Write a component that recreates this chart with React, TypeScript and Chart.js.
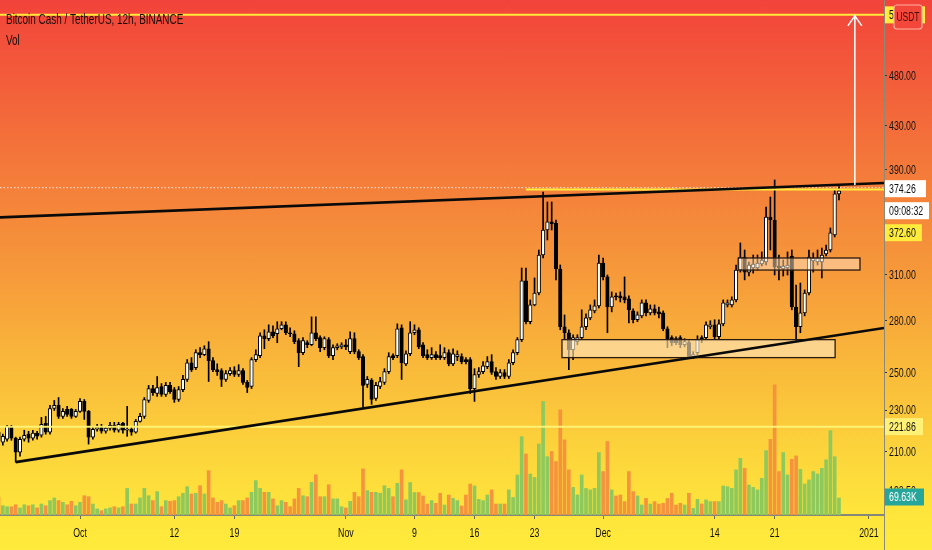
import React, { useEffect, useRef } from 'react';
import { Chart, registerables } from 'chart.js';

Chart.register(...registerables);

// ---- data: BCH/USDT 12h candles, index = half-days since Oct 1 00:00 ----
const FIRST_INDEX = -19;

const opens = [
  219.2, 214.4, 215.8, 222.0, 216.3, 209.7, 215.8, 218.2, 216.3, 218.7, // -19..-10
  217.7, 223.5, 219.2, 230.9, 232.5, 226.9, 230.4, 230.4, 226.9, // -9..-1
  229.4, 234.5, 229.4, 216.8, 220.6, 222.0, 219.6, 221.1, 222.5, 220.1, // 0..9
  223.5, 220.1, 220.6, 219.2, 224.4, 226.9, 235.0, 241.2, 238.6, 242.3, // 10..19
  238.1, 242.9, 240.7, 235.5, 240.7, 246.1, 255.3, 252.6, 261.0, 259.9, // 20..29
  263.3, 256.5, 251.5, 251.0, 246.1, 249.3, 251.0, 248.8, 251.0, 244.5, // 30..39
  242.3, 257.1, 259.3, 270.9, 269.2, 273.3, 272.1, 275.1, 277.5, 272.7, // 40..49
  272.1, 268.0, 261.0, 266.8, 265.6, 272.7, 269.8, 263.9, 268.6, 259.3, // 50..59
  263.9, 264.4, 265.6, 261.6, 269.2, 261.6, 258.8, 243.4, 245.6, 236.0, // 60..69
  242.3, 244.5, 250.4, 259.3, 259.3, 275.7, 254.7, 260.4, 272.7, 274.5, // 70..79
  265.6, 259.9, 258.2, 259.9, 259.3, 258.2, 261.0, 254.7, 258.8, 258.8, // 80..89
  257.1, 257.1, 241.2, 248.8, 250.4, 253.1, 255.9, 250.4, 247.7, 249.9, // 90..99
  247.7, 255.3, 261.0, 268.6, 305.6, 279.4, 289.9, 297.6, 323.5, 341.8, // 100..109
  347.9, 347.1, 313.7, 276.3, 272.7, 262.7, 267.4, 269.8, 276.3, 281.8, // 110..119
  286.1, 289.3, 317.9, 308.3, 288.6, 295.8, 295.8, 295.1, 293.8, 286.1, // 120..129
  280.6, 283.0, 291.2, 284.9, 287.4, 285.5, 284.9, 275.1, 269.8, 269.2, // 130..139
  269.8, 265.6, 266.8, 258.8, 261.0, 269.8, 269.8, 276.3, 277.5, 270.3, // 140..149
  278.1, 289.9, 289.9, 293.1, 313.0, 322.1, 311.6, 314.4, 314.4, 317.2, // 150..159
  318.6, 351.7, 349.4, 315.8, 313.7, 314.4, 322.8, 288.6, 276.3, 284.9, // 160..169
  297.6, 319.3, 318.6, 318.6, 324.3, 327.1, 338.1, 370.0, // 170..177
];

const highs = [
  220.1, 218.2, 222.5, 222.5, 216.8, 216.8, 220.1, 219.6, 220.1, 219.6,
  226.4, 226.9, 232.5, 235.0, 236.5, 230.9, 232.0, 230.9, 230.4,
  236.0, 235.5, 229.9, 221.6, 223.0, 223.0, 222.0, 224.0, 224.0, 224.0,
  224.0, 232.0, 221.6, 225.4, 228.4, 236.5, 242.9, 242.9, 247.7, 243.9,
  244.5, 244.5, 241.8, 242.3, 248.3, 257.1, 258.2, 262.7, 263.9, 265.0,
  267.4, 258.2, 254.7, 252.0, 251.0, 252.6, 253.1, 254.2, 252.0, 245.6,
  258.2, 262.7, 272.7, 274.5, 277.5, 276.9, 279.4, 279.4, 279.4, 275.7,
  273.9, 269.2, 269.8, 268.0, 282.4, 282.4, 270.9, 270.3, 269.8, 265.6,
  266.2, 266.8, 268.6, 273.3, 272.7, 262.7, 259.9, 247.7, 246.6, 244.5,
  247.2, 252.0, 261.0, 260.4, 278.1, 277.5, 262.1, 279.4, 277.5, 275.7,
  266.8, 262.7, 263.9, 261.6, 265.6, 263.9, 262.7, 263.3, 262.1, 260.4,
  258.2, 258.2, 252.0, 252.6, 255.9, 258.8, 259.9, 252.6, 251.5, 251.5,
  257.1, 262.7, 269.8, 314.4, 314.4, 293.1, 307.6, 327.1, 371.5, 363.5,
  363.5, 349.4, 316.5, 283.6, 274.5, 271.5, 271.5, 286.8, 284.3, 289.9,
  293.1, 323.5, 321.4, 309.6, 298.3, 297.6, 298.3, 308.3, 295.8, 287.4,
  285.5, 293.1, 293.1, 289.9, 289.9, 288.6, 286.1, 276.3, 270.9, 270.3,
  270.9, 269.2, 268.0, 261.6, 270.9, 270.9, 279.4, 280.0, 280.6, 280.6,
  293.1, 293.1, 295.1, 316.5, 332.2, 327.1, 318.6, 323.5, 323.5, 325.7,
  359.5, 367.5, 381.5, 323.5, 320.0, 325.7, 327.1, 302.9, 304.2, 299.6,
  327.1, 325.0, 327.1, 328.5, 330.7, 343.3, 373.2, 376.0,
];

const lows = [
  213.0, 213.0, 214.9, 215.3, 205.2, 207.9, 214.9, 214.4, 215.3, 215.8,
  216.8, 218.2, 218.2, 229.9, 225.9, 225.9, 226.9, 225.9, 226.4,
  228.9, 225.4, 213.5, 215.8, 219.6, 218.7, 218.7, 220.1, 219.2, 219.2,
  218.7, 217.2, 217.7, 218.7, 224.0, 225.9, 234.0, 237.6, 237.1, 237.1,
  237.1, 238.6, 234.0, 234.5, 239.6, 245.0, 250.4, 251.5, 258.2, 259.3,
  245.0, 250.4, 248.3, 242.3, 245.0, 248.3, 247.7, 247.7, 243.4, 239.1,
  241.2, 255.9, 258.2, 263.3, 268.0, 269.8, 266.8, 274.5, 271.5, 270.3,
  266.2, 253.1, 259.9, 263.9, 265.0, 268.0, 261.6, 262.7, 258.2, 257.1,
  262.7, 263.3, 262.7, 260.4, 260.4, 257.1, 231.4, 241.8, 233.0, 235.0,
  241.2, 243.4, 249.3, 257.1, 258.2, 246.1, 253.6, 259.3, 271.5, 263.3,
  258.2, 257.1, 257.1, 257.1, 257.1, 257.1, 253.6, 253.6, 256.5, 254.7,
  254.7, 238.6, 234.5, 247.2, 249.3, 252.0, 248.8, 246.1, 246.6, 246.6,
  246.6, 254.2, 259.9, 267.4, 278.1, 278.1, 289.3, 296.4, 321.4, 334.4,
  341.8, 306.3, 274.5, 268.6, 251.5, 257.1, 265.6, 268.6, 274.5, 280.6,
  284.9, 288.0, 306.3, 272.7, 285.5, 293.1, 291.8, 291.2, 278.7, 278.7,
  279.4, 281.8, 283.0, 283.6, 283.6, 281.8, 273.9, 263.9, 265.0, 265.6,
  263.9, 264.4, 257.6, 257.6, 259.9, 266.8, 268.6, 275.1, 268.6, 269.2,
  276.9, 288.6, 288.6, 291.8, 311.6, 306.3, 308.9, 310.9, 313.0, 315.8,
  316.5, 327.1, 309.6, 306.3, 308.9, 309.6, 286.8, 267.4, 272.7, 283.0,
  296.4, 311.6, 316.5, 307.6, 322.8, 325.7, 336.6, 365.1,
];

const closes = [
  214.9, 217.2, 222.0, 216.3, 209.7, 215.8, 217.7, 216.3, 218.7, 217.2,
  223.0, 219.2, 230.9, 232.5, 226.9, 229.4, 227.9, 226.9, 229.4,
  234.5, 229.4, 216.8, 220.6, 221.6, 219.6, 221.1, 222.5, 220.1, 223.0,
  220.1, 220.6, 219.2, 224.4, 226.9, 235.5, 241.2, 239.1, 241.8, 238.1,
  242.9, 239.6, 235.5, 240.7, 246.1, 255.3, 251.5, 261.0, 259.9, 263.3,
  256.5, 251.5, 250.4, 246.1, 249.3, 251.0, 248.8, 251.0, 244.5, 241.8,
  257.1, 259.9, 270.9, 269.2, 273.3, 270.9, 275.1, 277.5, 272.7, 272.1,
  267.4, 261.0, 268.0, 265.6, 272.7, 269.2, 263.9, 269.2, 259.3, 263.9,
  265.0, 265.6, 264.4, 269.2, 261.6, 258.2, 242.9, 246.1, 235.5, 242.9,
  245.0, 250.4, 258.8, 258.2, 275.1, 255.3, 260.4, 272.7, 274.5, 264.4,
  259.3, 258.2, 259.9, 258.2, 258.2, 261.0, 254.7, 260.4, 259.9, 255.9,
  255.9, 241.2, 248.8, 250.4, 253.6, 255.9, 249.9, 247.7, 249.9, 247.7,
  255.3, 261.0, 268.6, 305.6, 279.4, 289.9, 297.6, 323.5, 341.8, 347.9,
  346.3, 313.7, 276.3, 272.7, 262.7, 269.8, 269.8, 276.3, 281.8, 286.8,
  289.3, 317.9, 308.3, 288.6, 295.1, 295.1, 294.4, 293.1, 286.8, 280.6,
  283.6, 291.2, 284.9, 287.4, 284.9, 284.3, 275.1, 268.6, 266.8, 266.8,
  265.6, 267.4, 258.8, 259.9, 268.6, 268.6, 277.5, 277.5, 270.3, 278.1,
  291.2, 291.2, 293.1, 313.0, 322.1, 311.6, 316.5, 317.2, 317.9, 320.0,
  351.7, 349.4, 315.1, 314.4, 315.8, 316.5, 288.6, 276.3, 284.9, 297.6,
  322.1, 321.4, 321.4, 323.5, 327.1, 339.6, 370.0, 372.6,
];

// volume in thousands (K)
const volumes = [
  72, 38, 34, 34, 42, 29, 42, 38, 42, 29, 45, 38, 59, 70, 59, 52, 42, 56, 38,
  52, 79, 75, 45, 25, 18, 25, 29, 34, 29,
  34, 109, 45, 45, 70, 109, 79, 59, 96, 34,
  59, 56, 59, 75, 89, 116, 86, 89, 120, 86,
  182, 70, 52, 59, 45, 29, 38, 59, 59, 70,
  93, 141, 109, 93, 93, 66, 38, 59, 52, 34,
  66, 109, 79, 75, 134, 165, 75, 75, 124, 66,
  66, 34, 29, 56, 93, 75, 189, 100, 93, 93,
  89, 120, 109, 75, 130, 185, 62, 133, 92, 92,
  78, 45, 59, 48, 89, 41, 82, 68, 59, 37,
  82, 127, 119, 64, 59, 82, 103, 45, 45, 45,
  103, 72, 164, 321, 250, 168, 154, 291, 465, 239,
  260, 219, 431, 308, 185, 113, 82, 164, 109, 103,
  109, 256, 178, 301, 103, 78, 82, 55, 178, 96,
  78, 41, 68, 45, 55, 45, 48, 68, 89, 41,
  48, 41, 89, 27, 64, 45, 62, 55, 55, 55,
  119, 116, 109, 185, 232, 191, 123, 113, 103, 150,
  264, 310, 533, 178, 256, 164, 228, 242, 187, 127,
  144, 178, 168, 191, 226, 346, 239, 69.63,
];

const xTickPositions = [0, 22, 36, 62, 78, 92, 106, 122, 148, 162, 184];
const xTickLabels = ['Oct', '12', '19', 'Nov', '9', '16', '23', 'Dec', '14', '21', '2021'];
const yTickValues = [192.5, 210, 230, 250, 280, 310, 390, 430, 480];

// drawings on the chart (index, price)
const resistanceLine = [[-19, 351.6], [187.5, 379.0]];
const supportLine = [[-15, 205.2], [187.5, 275.6]];
const targetPrice = 548.4;
const arrowAt = { x: 180.7, from: 377.3, to: 548.4 };
const zoneBoxes = [
  { x0: 112.4, x1: 176.1, hi: 268.6, lo: 258.2, fill: 'rgba(255,232,190,0.62)' },
  { x0: 153.5, x1: 181.9, hi: 321.4, lo: 313.0, fill: 'rgba(255,228,195,0.5)' },
];
const supportLevel = 221.86;
const highLevel = 374.26;
const yellowRayPrice = 373.6;
const yellowRayStart = 104;
const lastPrice = 372.6;
const lastVolumeLabel = '69.63K';
const countdown = '09:08:32';

const X_MIN = -18.66;
const X_MAX = 187.5;
const Y_MIN = 182.7;
const Y_MAX = 566.6;
const VOL_MAX = 2110;

const FONT = "'Liberation Sans', Arial, sans-serif";
const TEXT = '#121212';
const SQUEEZE = 0.65;

const idx = opens.map((_, i) => FIRST_INDEX + i);
const isUp = opens.map((o, i) => closes[i] >= o);

function narrowText(ctx: any, text: string, x: number, y: number, align: string, sx = SQUEEZE) {
  ctx.save();
  ctx.translate(x, y);
  ctx.scale(sx, 1);
  ctx.textAlign = align;
  ctx.fillText(text, 0, 0);
  ctx.restore();
}

const overlayPlugin = {
  id: 'overlay',
  afterDatasetsDraw(chart: any) {
    const { ctx, chartArea: a, scales } = chart;
    const px = (v: number) => scales.x.getPixelForValue(v);
    const py = (v: number) => scales.y.getPixelForValue(v);
    ctx.save();
    ctx.beginPath();
    ctx.rect(a.left, a.top, a.right - a.left, a.bottom - a.top);
    ctx.clip();

    // pale yellow level
    ctx.strokeStyle = 'rgba(255,244,120,0.95)';
    ctx.lineWidth = 2;
    ctx.beginPath();
    ctx.moveTo(a.left, py(supportLevel));
    ctx.lineTo(a.right, py(supportLevel));
    ctx.stroke();

    // target line
    ctx.strokeStyle = '#ffe93a';
    ctx.lineWidth = 2;
    ctx.beginPath();
    ctx.moveTo(a.left, py(targetPrice));
    ctx.lineTo(a.right, py(targetPrice));
    ctx.stroke();

    // dotted high line
    ctx.strokeStyle = 'rgba(255,255,255,0.85)';
    ctx.lineWidth = 1;
    ctx.setLineDash([1.5, 2]);
    ctx.beginPath();
    ctx.moveTo(a.left, py(highLevel) - 1);
    ctx.lineTo(a.right, py(highLevel) - 1);
    ctx.stroke();
    ctx.setLineDash([]);

    // yellow ray
    ctx.strokeStyle = '#ffeb3b';
    ctx.lineWidth = 2;
    ctx.beginPath();
    ctx.moveTo(px(yellowRayStart), py(yellowRayPrice));
    ctx.lineTo(a.right, py(yellowRayPrice));
    ctx.stroke();

    // boxes
    zoneBoxes.forEach((b) => {
      const x0 = px(b.x0), x1 = px(b.x1), y0 = py(b.hi), y1 = py(b.lo);
      ctx.fillStyle = b.fill;
      ctx.fillRect(x0, y0, x1 - x0, y1 - y0);
      ctx.strokeStyle = '#2a1a10';
      ctx.lineWidth = 1.3;
      ctx.strokeRect(x0, y0, x1 - x0, y1 - y0);
    });

    // trend lines extended to the right edge
    const drawTrend = (pts: number[][]) => {
      const x1 = px(pts[0][0]), y1 = py(pts[0][1]);
      const x2 = px(pts[1][0]), y2 = py(pts[1][1]);
      const k = (y2 - y1) / (x2 - x1);
      ctx.strokeStyle = '#0a0a0a';
      ctx.lineWidth = 2.6;
      ctx.beginPath();
      ctx.moveTo(x1, y1);
      ctx.lineTo(a.right, y1 + k * (a.right - x1));
      ctx.stroke();
    };
    drawTrend([[resistanceLine[0][0] - 2, resistanceLine[0][1] - 0.5], resistanceLine[1]]);
    drawTrend(supportLine);

    // arrow
    const ax = px(arrowAt.x), ay1 = py(arrowAt.from), ay2 = py(arrowAt.to);
    ctx.strokeStyle = '#ffffff';
    ctx.lineWidth = 1.5;
    ctx.beginPath();
    ctx.moveTo(ax, ay1);
    ctx.lineTo(ax, ay2 + 1);
    ctx.moveTo(ax - 7, ay2 + 11);
    ctx.lineTo(ax, ay2 + 1);
    ctx.lineTo(ax + 7, ay2 + 11);
    ctx.stroke();
    ctx.restore();
  },
  afterDraw(chart: any) {
    const { ctx, chartArea: a, scales } = chart;
    const py = (v: number) => scales.y.getPixelForValue(v);
    ctx.save();
    ctx.textBaseline = 'middle';

    // title
    ctx.fillStyle = '#1a0c08';
    ctx.font = `14px ${FONT}`;
    narrowText(ctx, 'Bitcoin Cash / TetherUS, 12h, BINANCE', 6, 20, 'left', 0.71);
    narrowText(ctx, 'Vol', 6, 41, 'left', 0.71);

    // axis tick labels, positioned by the scales
    ctx.font = `13.5px ${FONT}`;
    ctx.fillStyle = TEXT;
    scales.y.ticks.forEach((t: any) => {
      narrowText(ctx, Number(t.value).toFixed(2), a.right + 5, scales.y.getPixelForValue(t.value) + 0.5, 'left');
    });
    scales.x.ticks.forEach((t: any) => {
      const k = xTickPositions.indexOf(Number(t.value));
      if (k >= 0) narrowText(ctx, xTickLabels[k], scales.x.getPixelForValue(t.value), 533, 'center');
    });

    // right axis line continued to bottom
    ctx.strokeStyle = '#8a8a7a';
    ctx.lineWidth = 1;
    ctx.beginPath();
    ctx.moveTo(a.right + 0.5, a.bottom);
    ctx.lineTo(a.right + 0.5, 550);
    ctx.stroke();

    const tag = (y: number, w: number, fill: string, text: string, color: string) => {
      ctx.fillStyle = fill;
      ctx.fillRect(a.right + 1, y - 8.5, w, 17);
      ctx.fillStyle = color;
      narrowText(ctx, text, a.right + 5, y + 0.5, 'left');
    };
    const yHigh = py(highLevel);
    tag(py(targetPrice), 40, '#ffeb3b', targetPrice.toFixed(2), TEXT);
    tag(yHigh, 41, '#ffffff', highLevel.toFixed(2), TEXT);
    tag(yHigh + 22, 44, '#ffffff', countdown, TEXT);
    tag(yHigh + 44, 37, '#ffeb3b', lastPrice.toFixed(2), TEXT);
    tag(py(supportLevel), 38, '#fff176', supportLevel.toFixed(2), TEXT);
    tag(scales.yv.getPixelForValue(volumes[volumes.length - 1]) - 1, 39, '#26a69a', lastVolumeLabel, '#ffffff');

    // USDT badge
    const bx = a.right + 10, by = 5, bw = 28, bh = 24;
    ctx.fillStyle = '#f2473a';
    ctx.strokeStyle = '#ffb0a0';
    ctx.lineWidth = 1.2;
    ctx.beginPath();
    ctx.roundRect(bx, by, bw, bh, 3);
    ctx.fill();
    ctx.stroke();
    ctx.fillStyle = '#4a0c08';
    ctx.font = `13px ${FONT}`;
    narrowText(ctx, 'USDT', bx + bw / 2, by + bh / 2 + 0.5, 'center');
    ctx.restore();
  },
};

export default function App() {
  const ref = useRef<HTMLCanvasElement | null>(null);

  useEffect(() => {
    document.body.style.margin = '0';
    const canvas = ref.current;
    if (!canvas) return;
    const chart = new Chart(canvas, {
      type: 'bar',
      data: {
        datasets: [
          {
            label: 'wicks',
            data: idx.map((x, i) => ({ x, y: [lows[i], highs[i]] })) as any,
            backgroundColor: '#000000',
            barThickness: 1,
            grouped: false,
            order: 2,
            yAxisID: 'y',
          } as any,
          {
            label: 'bodies',
            data: idx.map((x, i) => ({ x, y: [opens[i], closes[i]] })) as any,
            backgroundColor: isUp.map((u) => (u ? '#ffffff' : '#000000')),
            borderColor: '#000000',
            borderWidth: 1,
            borderSkipped: false,
            barThickness: 3.5,
            minBarLength: 1,
            grouped: false,
            order: 1,
            yAxisID: 'y',
          } as any,
          {
            label: 'volume',
            data: idx.map((x, i) => ({ x, y: volumes[i] })) as any,
            backgroundColor: isUp.map((u) => (u ? '#8fc95c' : '#f5943c')),
            barThickness: 3,
            grouped: false,
            order: 3,
            yAxisID: 'yv',
          } as any,
        ],
      },
      options: {
        animation: false,
        responsive: false,
        maintainAspectRatio: false,
        devicePixelRatio: 1,
        layout: { padding: 0 },
        plugins: { legend: { display: false }, tooltip: { enabled: false } },
        scales: {
          x: {
            type: 'linear',
            min: X_MIN,
            max: X_MAX,
            offset: false,
            afterBuildTicks: (s: any) => {
              s.ticks = xTickPositions.map((v) => ({ value: v }));
            },
            afterFit: (s: any) => {
              s.height = 35;
              s.paddingLeft = 0;
              s.paddingRight = 0;
            },
            ticks: { display: false, autoSkip: false, maxRotation: 0 },
            grid: { offset: false, drawOnChartArea: false, drawTicks: true, tickLength: 4, color: '#6a6a5a' },
            border: { display: true, color: '#86867a', width: 2 },
          },
          y: {
            type: 'logarithmic',
            position: 'right',
            min: Y_MIN,
            max: Y_MAX,
            afterBuildTicks: (s: any) => {
              s.ticks = yTickValues.map((v) => ({ value: v }));
            },
            afterFit: (s: any) => {
              s.width = 48;
              s.paddingTop = 0;
              s.paddingBottom = 0;
            },
            ticks: { display: false },
            grid: { drawOnChartArea: false, drawTicks: true, tickLength: 3, color: '#3a3a3a' },
            border: { display: true, color: '#8a8a7a', width: 1 },
          },
          yv: {
            type: 'linear',
            display: false,
            min: 0,
            max: VOL_MAX,
          },
        },
      } as any,
      plugins: [overlayPlugin],
    });
    return () => chart.destroy();
  }, []);

  return (
    <div
      style={{
        width: 932,
        height: 550,
        position: 'relative',
        background:
          'linear-gradient(to bottom, #f2433a 0%, #f35c3a 14%, #f47c3a 32%, #f69a3a 50%, #f9b83a 66%, #fcd43b 82%, #fee53b 93%, #ffeb3b 100%)',
      }}
    >
      <canvas ref={ref} width={932} height={550} style={{ display: 'block' }} />
    </div>
  );
}
